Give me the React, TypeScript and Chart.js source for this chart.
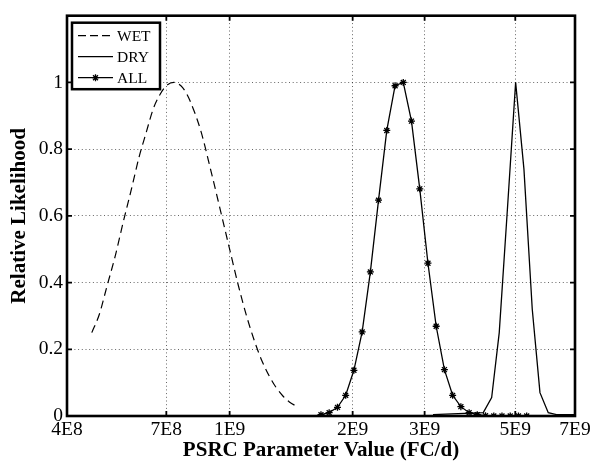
import React, { useEffect, useRef } from "react";
import { Chart, registerables } from "chart.js";

Chart.register(...registerables);

// Parameter values (FC/d) and relative likelihoods for each season
const wetX = [4.6e8, 4.8e8, 5.0e8, 5.25e8, 5.5e8, 5.75e8, 6.0e8, 6.25e8, 6.5e8, 6.75e8, 7.0e8, 7.3e8, 7.6e8, 7.8e8, 8.0e8, 8.5e8, 9.0e8, 9.5e8, 1.0e9, 1.05e9, 1.1e9, 1.15e9, 1.2e9, 1.25e9, 1.3e9, 1.35e9, 1.4e9, 1.47e9];
const wetY = [0.25, 0.305, 0.385, 0.48, 0.585, 0.68, 0.775, 0.85, 0.92, 0.963, 0.99, 1.0, 0.99, 0.972, 0.945, 0.855, 0.735, 0.615, 0.5, 0.392, 0.3, 0.225, 0.165, 0.12, 0.085, 0.06, 0.042, 0.027];

const dryX = [3.145e9, 4.175e9, 4.377e9, 4.568e9, 4.783e9, 5.01e9, 5.25e9, 5.502e9, 5.746e9, 6.021e9, 6.306e9, 7.0e9];
const dryY = [0.004, 0.01, 0.055, 0.25, 0.62, 1.0, 0.74, 0.32, 0.07, 0.01, 0.004, 0.004];

const allX = [1.673e9, 1.752e9, 1.836e9, 1.923e9, 2.014e9, 2.11e9, 2.21e9, 2.314e9, 2.424e9, 2.54e9, 2.66e9, 2.786e9, 2.919e9, 3.057e9, 3.202e9, 3.354e9, 3.513e9, 3.68e9, 3.855e9, 4.036e9, 4.228e9, 4.43e9, 4.639e9, 4.86e9, 5.09e9, 5.332e9];
const allY = [0.004, 0.01, 0.026, 0.062, 0.137, 0.252, 0.432, 0.647, 0.856, 0.99, 1.0, 0.884, 0.681, 0.458, 0.269, 0.139, 0.062, 0.028, 0.01, 0.004, 0.001, 0, 0, 0, 0, 0];

const seriesNames = ["WET", "DRY", "ALL"];

const xTickValues = [4e8, 7e8, 1e9, 2e9, 3e9, 5e9, 7e9];
const xTickLabels = ["4E8", "7E8", "1E9", "2E9", "3E9", "5E9", "7E9"];
const yTickValues = [0, 0.2, 0.4, 0.6, 0.8, 1];
const yTickLabels = ["0", "0.2", "0.4", "0.6", "0.8", "1"];

const xTitle = "PSRC Parameter Value (FC/d)";
const yTitle = "Relative Likelihood";

const SERIF = "'Liberation Serif', 'Times New Roman', Times, serif";
const WET_DASH = [8, 5];

function drawStar(ctx: CanvasRenderingContext2D, x: number, y: number, r: number) {
  const d = r * Math.SQRT1_2;
  ctx.beginPath();
  ctx.moveTo(x - r, y);
  ctx.lineTo(x + r, y);
  ctx.moveTo(x, y - r);
  ctx.lineTo(x, y + r);
  ctx.moveTo(x - d, y - d);
  ctx.lineTo(x + d, y + d);
  ctx.moveTo(x - d, y + d);
  ctx.lineTo(x + d, y - d);
  ctx.stroke();
}

// Box around the axes plus inward tick marks on all four sides
const axesFrame = {
  id: "axesFrame",
  afterDatasetsDraw(chart: any) {
    const { ctx, chartArea, scales } = chart;
    const { left, right, top, bottom } = chartArea;
    const tick = 5;
    ctx.save();
    ctx.strokeStyle = "#000";
    ctx.lineWidth = 1.8;
    ctx.beginPath();
    xTickValues.forEach((v) => {
      const px = scales.x.getPixelForValue(v);
      ctx.moveTo(px, bottom);
      ctx.lineTo(px, bottom - tick);
      ctx.moveTo(px, top);
      ctx.lineTo(px, top + tick);
    });
    yTickValues.forEach((v) => {
      const py = scales.y.getPixelForValue(v);
      ctx.moveTo(left, py);
      ctx.lineTo(left + tick, py);
      ctx.moveTo(right, py);
      ctx.lineTo(right - tick, py);
    });
    ctx.stroke();
    ctx.lineWidth = 2.6;
    ctx.strokeRect(left, top, right - left, bottom - top);
    ctx.restore();
  },
};

// Framed legend in the upper-left corner of the axes
const boxLegend = {
  id: "boxLegend",
  afterDraw(chart: any) {
    const { ctx, chartArea } = chart;
    const bx = chartArea.left + 5;
    const by = chartArea.top + 7;
    const bw = 88;
    const bh = 66.5;
    ctx.save();
    ctx.fillStyle = "#fff";
    ctx.fillRect(bx, by, bw, bh);
    ctx.strokeStyle = "#000";
    ctx.lineWidth = 2.5;
    ctx.strokeRect(bx, by, bw, bh);

    ctx.font = `15.5px ${SERIF}`;
    ctx.fillStyle = "#000";
    ctx.textBaseline = "alphabetic";
    ctx.textAlign = "left";
    const x0 = bx + 6;
    const x1 = bx + 41;
    seriesNames.forEach((name, i) => {
      const cy = by + 13 + i * 21;
      ctx.lineWidth = 1.2;
      ctx.setLineDash(i === 0 ? [8, 4] : []);
      ctx.beginPath();
      ctx.moveTo(x0, cy);
      ctx.lineTo(x1, cy);
      ctx.stroke();
      ctx.setLineDash([]);
      if (i === 2) {
        ctx.lineWidth = 1.3;
        drawStar(ctx, (x0 + x1) / 2, cy, 3.5);
      }
      ctx.fillText(name, bx + 45, cy + 5.5);
    });
    ctx.restore();
  },
};

export default function App() {
  const canvasRef = useRef<HTMLCanvasElement | null>(null);

  useEffect(() => {
    const canvas = canvasRef.current;
    if (!canvas) return;

    const toPoints = (xs: number[], ys: number[]) => xs.map((x, i) => ({ x, y: ys[i] }));

    const chart = new Chart(canvas, {
      type: "line",
      data: {
        datasets: [
          {
            label: seriesNames[0],
            data: toPoints(wetX, wetY),
            borderColor: "#000",
            borderWidth: 1.2,
            borderDash: WET_DASH,
            pointRadius: 0,
            cubicInterpolationMode: "monotone",
            fill: false,
          },
          {
            label: seriesNames[1],
            data: toPoints(dryX, dryY),
            borderColor: "#000",
            borderWidth: 1.3,
            pointRadius: 0,
            fill: false,
          },
          {
            label: seriesNames[2],
            data: toPoints(allX, allY),
            borderColor: "#000",
            borderWidth: 1.3,
            pointStyle: "star",
            pointRadius: 3.5,
            pointBorderWidth: 1.3,
            pointBorderColor: "#000",
            pointBackgroundColor: "#000",
            fill: false,
          },
        ],
      },
      options: {
        responsive: false,
        animation: false,
        events: [],
        layout: { padding: { left: 0, top: 14, right: 23, bottom: 0 } },
        plugins: {
          legend: { display: false },
          tooltip: { enabled: false },
        },
        scales: {
          x: {
            type: "logarithmic",
            min: 4e8,
            max: 7e9,
            afterBuildTicks: (scale: any) => {
              scale.ticks = xTickValues.map((value) => ({ value }));
            },
            afterFit: (scale: any) => {
              scale.height = 48;
            },
            ticks: {
              autoSkip: false,
              maxRotation: 0,
              minRotation: 0,
              padding: 2.3,
              color: "#000",
              font: { family: SERIF, size: 19.5 },
              callback: (value: any) => {
                const idx = xTickValues.indexOf(Number(value));
                return idx >= 0 ? xTickLabels[idx] : "";
              },
            },
            grid: {
              drawTicks: false,
              lineWidth: 1,
              color: (ctx: any) => {
                const v = ctx.tick ? ctx.tick.value : null;
                return v === xTickValues[0] || v === xTickValues[xTickValues.length - 1]
                  ? "rgba(0,0,0,0)"
                  : "rgba(0,0,0,0.6)";
              },
            },
            border: { display: false, dash: [1, 2.7] },
            title: {
              display: true,
              text: xTitle,
              color: "#000",
              font: { family: SERIF, size: 21, weight: "bold" },
              padding: { top: 0, bottom: 0.4 },
            },
          },
          y: {
            type: "linear",
            min: 0,
            max: 1.2,
            afterBuildTicks: (scale: any) => {
              scale.ticks = yTickValues.map((value) => ({ value }));
            },
            afterFit: (scale: any) => {
              scale.width = 67;
            },
            ticks: {
              padding: 4,
              color: "#000",
              font: { family: SERIF, size: 19.5 },
              callback: (value: any) => {
                const idx = yTickValues.indexOf(Number(value));
                return idx >= 0 ? yTickLabels[idx] : "";
              },
            },
            grid: {
              drawTicks: false,
              lineWidth: 1,
              color: (ctx: any) => {
                const v = ctx.tick ? ctx.tick.value : null;
                return v === 0 ? "rgba(0,0,0,0)" : "rgba(0,0,0,0.6)";
              },
            },
            border: { display: false, dash: [1, 2.7] },
            title: {
              display: true,
              text: yTitle,
              color: "#000",
              font: { family: SERIF, size: 21, weight: "bold" },
              padding: { top: 7.4, bottom: 0 },
            },
          },
        },
      } as any,
      plugins: [axesFrame, boxLegend],
    });

    return () => chart.destroy();
  }, []);

  return (
    <div style={{ position: "absolute", left: 0, top: 0, width: 598, height: 464, background: "#fff" }}>
      <canvas ref={canvasRef} width={598} height={464} style={{ display: "block", width: 598, height: 464 }} />
    </div>
  );
}
